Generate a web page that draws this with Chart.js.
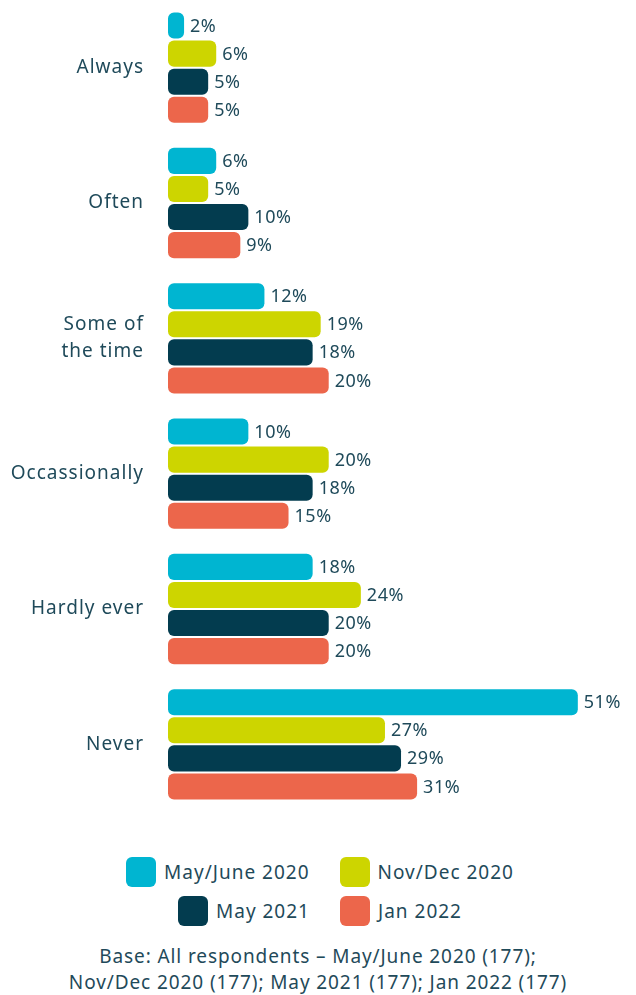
<!DOCTYPE html>
<html>
<head>
<meta charset="utf-8">
<script src="https://cdn.jsdelivr.net/npm/chart.js@4"></script>
<style>
  body { margin: 0; background: #fff; width: 636px; font-family: "Noto Sans", sans-serif; color: #1f4a5a; }
  #wrap { position: relative; width: 636px; height: 812px; }
  #legend { margin-top: 45px; display: flex; flex-wrap: wrap; justify-content: center; width: 460px; margin-left: 90px; row-gap: 9px; column-gap: 30px; }
  .item { display: flex; align-items: center; font-size: 19px; letter-spacing: 1px; }
  .box { width: 30px; height: 30px; border-radius: 6px; margin-right: 8px; }
  #note { text-align: center; font-size: 19px; letter-spacing: 0.9px; line-height: 26px; margin-top: 17px; }
</style>
</head>
<body>
<div id="wrap"><canvas id="chart"></canvas></div>
<div id="legend"></div>
<div id="note">Base: All respondents – May/June 2020 (177);<br>Nov/Dec 2020 (177); May 2021 (177); Jan 2022 (177)</div>
<script>
const categories = ["Always", "Often", ["Some of", "the time"], "Occassionally", "Hardly ever", "Never"];
const seriesNames = ["May/June 2020", "Nov/Dec 2020", "May 2021", "Jan 2022"];
const mayJune2020 = [2, 6, 12, 10, 18, 51];
const novDec2020 = [6, 5, 19, 20, 24, 27];
const may2021 = [5, 10, 18, 18, 20, 29];
const jan2022 = [5, 9, 20, 15, 20, 31];
const colors = ["#00b5d1", "#cdd500", "#033c4f", "#ec664b"];
const textColor = "#1f4a5a";

const allSeries = [mayJune2020, novDec2020, may2021, jan2022];

// wider letter spacing for the category labels
const spacing = {
  id: "spacing",
  beforeDraw(chart) { chart.ctx.letterSpacing = "1px"; }
};

// labels at bar ends
const valueLabels = {
  id: "valueLabels",
  afterDatasetsDraw(chart) {
    const ctx = chart.ctx;
    ctx.save();
    ctx.letterSpacing = "0.5px";
    ctx.fillStyle = textColor;
    ctx.font = '18px "Noto Sans"';
    ctx.textBaseline = "middle";
    chart.data.datasets.forEach((ds, i) => {
      chart.getDatasetMeta(i).data.forEach((bar, j) => {
        ctx.fillText(ds.data[j] + "%", bar.x + 6, bar.y + 1);
      });
    });
    ctx.restore();
  }
};

const chart = new Chart(document.getElementById("chart"), {
  type: "bar",
  data: {
    labels: categories,
    datasets: allSeries.map((d, i) => ({
      label: seriesNames[i],
      data: d,
      backgroundColor: colors[i],
      borderRadius: 6,
      borderSkipped: false,
      categoryPercentage: 0.83,
      barPercentage: 0.93
    }))
  },
  options: {
    indexAxis: "y",
    responsive: true,
    maintainAspectRatio: false,
    animation: false,
    layout: { padding: { right: 18 } },
    plugins: { legend: { display: false }, tooltip: { enabled: false } },
    scales: {
      x: { display: false, min: 0, max: 56 },
      y: {
        grid: { display: false },
        border: { display: false },
        afterFit(scale) {
          scale.width = 168;
          scale.paddingTop = 0;
          scale.paddingBottom = 0;
        },
        ticks: { color: textColor, padding: 16, font: { family: "Noto Sans", size: 19, lineHeight: 1.4 } }
      }
    }
  },
  plugins: [spacing, valueLabels]
});

// legend
const legend = document.getElementById("legend");
seriesNames.forEach((name, i) => {
  const item = document.createElement("div");
  item.className = "item";
  item.innerHTML = `<span class="box" style="background:${colors[i]}"></span><span>${name}</span>`;
  legend.appendChild(item);
});
</script>
</body>
</html>
